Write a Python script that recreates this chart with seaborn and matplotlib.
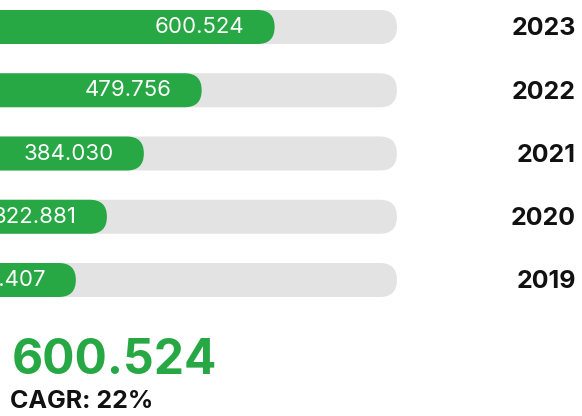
import numpy as np
import pandas as pd
import matplotlib
matplotlib.use("Agg")
import matplotlib.pyplot as plt
import seaborn as sns
from matplotlib.patches import FancyBboxPatch
from matplotlib.transforms import blended_transform_factory

# data
years = ["2023", "2022", "2021", "2020", "2019"]
values = [600.524, 479.756, 384.030, 322.881, 271.407]
labels = ["600.524", "479.756", "384.030", "322.881", "271.407"]
headline = "600.524"
cagr_text = "CAGR: 22%"

GREEN = "#27a844"
TRACK = "#e3e3e3"

sns.set_theme(style="white")
plt.rcParams["font.family"] = ["Inter", "DejaVu Sans"]

df = pd.DataFrame({"year": years, "value": values})
df["track"] = 803.0  # grey track length (layout)

W, H = 582, 416
fig = plt.figure(figsize=(W / 100, H / 100), dpi=100)
ax = fig.add_axes([0, 0, 1, 1])

sns.barplot(data=df, y="year", x="track", color=TRACK, width=34 / 63.25, ax=ax, orient="h", saturation=1)
sns.barplot(data=df, y="year", x="value", color=GREEN, width=34 / 63.25, ax=ax, orient="h", saturation=1)

# axes scale: pixel = -88.1 + 0.604 * value ; rows 63.25px apart
px_per_unit = 0.604
x0 = 88.1 / px_per_unit
ax.set_xlim(x0, x0 + W / px_per_unit)
top = -27 / 63.25
ax.set_ylim(top + H / 63.25, top)

# round the bar ends
r_x = 17 / px_per_unit
r_y = 17 / 63.25
for p in list(ax.patches):
    x, y = p.get_x(), p.get_y()
    w, h = p.get_width(), p.get_height()
    fb = FancyBboxPatch((x, y), w, h,
                        boxstyle=f"round,pad=0,rounding_size={r_x}",
                        mutation_aspect=r_y / r_x,
                        facecolor=p.get_facecolor(), edgecolor="none")
    p.remove()
    ax.add_patch(fb)

for i, (v, lab) in enumerate(zip(values, labels)):
    ax.annotate(lab, xy=(v, i), xytext=(-30, 0), textcoords="offset pixels",
                ha="right", va="center", color="white", fontsize=16, fontweight="normal")

trans = blended_transform_factory(ax.transAxes, ax.transData)
for i, yr in enumerate(years):
    ax.text(576 / W, i + 0.03, yr, transform=trans, ha="right", va="center",
            fontsize=18, fontweight="bold", color="#111111")

ax.set_axis_off()

fig.text(12 / W, 1 - 361 / H, headline, ha="left", va="center", color=GREEN,
         fontsize=34.5, fontweight="bold")
fig.text(10 / W, 1 - 402 / H, cagr_text, ha="left", va="center", color="#111111",
         fontsize=18, fontweight="bold")

fig.savefig("out.png", dpi=100)
